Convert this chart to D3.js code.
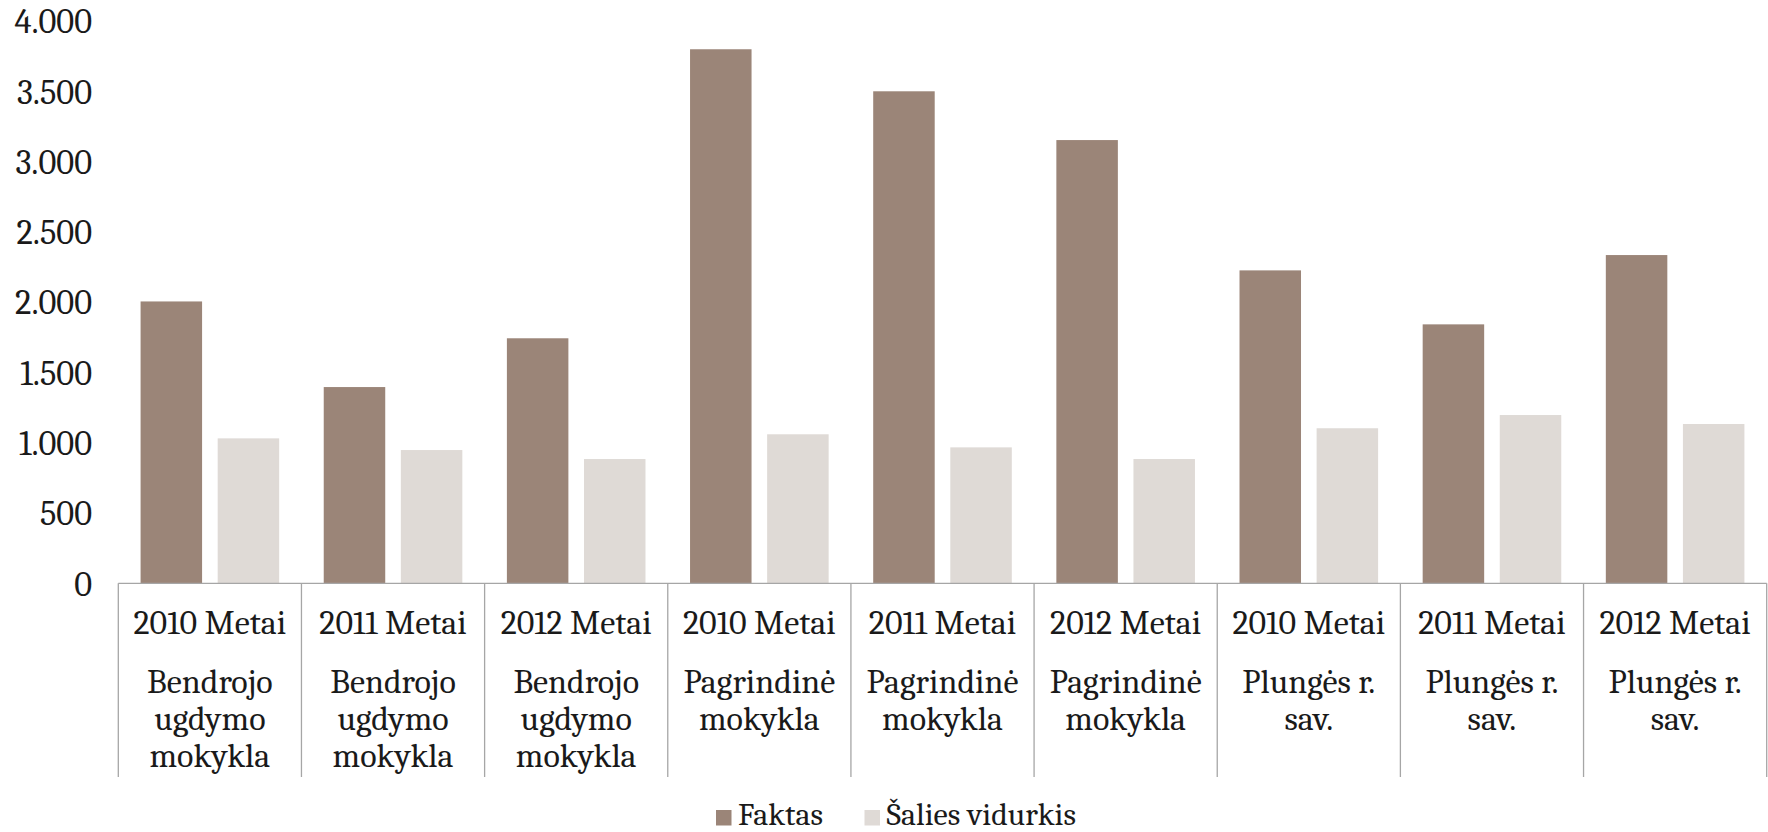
<!DOCTYPE html>
<html>
<head>
<meta charset="utf-8">
<script src="https://cdn.jsdelivr.net/npm/d3@7"></script>
<style>
	body { margin: 0; background: #fff; }
	svg { display: block; }
</style>
</head>
<body>
<svg id="chart" width="1768" height="832"></svg>
<script>
// duomenys
var years = ["2010 Metai", "2011 Metai", "2012 Metai",
	"2010 Metai", "2011 Metai", "2012 Metai",
	"2010 Metai", "2011 Metai", "2012 Metai"];
var groupLines = [
	["Bendrojo", "ugdymo", "mokykla"], ["Bendrojo", "ugdymo", "mokykla"], ["Bendrojo", "ugdymo", "mokykla"],
	["Pagrindinė", "mokykla"], ["Pagrindinė", "mokykla"], ["Pagrindinė", "mokykla"],
	["Plungės r.", "sav."], ["Plungės r.", "sav."], ["Plungės r.", "sav."]
];
var seriesNames = ["Faktas", "Šalies vidurkis"];
var faktas = [2005, 1396, 1743, 3799, 3500, 3153, 2226, 1842, 2335];
var saliesVidurkis = [1031, 948, 884, 1060, 967, 884, 1103, 1197, 1133];
var yTicks = [0, 500, 1000, 1500, 2000, 2500, 3000, 3500, 4000];
var colors = ["#9b8578", "#dfdad6"];

(function(){
	var FONT = "Caladea, 'Liberation Serif', serif";
	var svg = d3.select("#chart"),
		margin = {top: 21, left: 118.3, right: 1.3},
		axisY = 583.3,
		width = 1768 - margin.left - margin.right;

	var idx = d3.range(years.length);
	var series = [faktas, saliesVidurkis];

	var x = d3.scaleBand().domain(idx).range([margin.left, margin.left + width]);
	var x1 = d3.scaleBand().domain([0, 1]).range([0, x.bandwidth()])
		.paddingInner(0.2023).paddingOuter(0.289);
	var y = d3.scaleLinear().domain([0, 4000]).range([axisY, margin.top]);

	var fmt = function(d){ return d3.format(",")(d).replace(/,/g, "."); };

	// y axis labels
	var yAxis = svg.append("g")
		.attr("transform", "translate(92,0)")
		.call(d3.axisLeft(y).tickValues(yTicks).tickSize(0).tickPadding(0).tickFormat(fmt));
	yAxis.select(".domain").remove();
	yAxis.attr("font-family", null).attr("font-size", null);
	yAxis.selectAll("text")
		.attr("dy", "0.34em")
		.style("fill", "#1a1a1a")
		.style("font-size", "34.5px")
		.style("font-family", FONT);

	// bars
	idx.forEach(function(i){
		series.forEach(function(s, k){
			svg.append("rect")
				.attr("x", x(i) + x1(k))
				.attr("y", y(s[i]))
				.attr("width", x1.bandwidth())
				.attr("height", axisY - y(s[i]))
				.style("fill", colors[k]);
		});
	});

	// category axis line and separators
	svg.append("line")
		.attr("x1", margin.left).attr("x2", margin.left + width)
		.attr("y1", axisY).attr("y2", axisY)
		.style("stroke", "#a6a6a6").style("stroke-width", 1.3);

	var bounds = idx.map(function(i){ return x(i); }).concat([margin.left + width]);
	svg.selectAll(".sep")
		.data(bounds)
		.enter()
		.append("line")
		.attr("class", "sep")
		.attr("x1", function(d){ return d; }).attr("x2", function(d){ return d; })
		.attr("y1", axisY).attr("y2", 777)
		.style("stroke", "#a6a6a6").style("stroke-width", 1.3);

	// category labels
	var cat = svg.selectAll(".cat")
		.data(idx)
		.enter()
		.append("g")
		.attr("class", "cat")
		.attr("transform", function(i){ return "translate(" + (x(i) + x.bandwidth() / 2) + ",0)"; });

	cat.append("text")
		.attr("y", 634)
		.attr("text-anchor", "middle")
		.style("fill", "#1a1a1a")
		.style("font-size", "34px")
		.style("font-family", FONT)
		.text(function(i){ return years[i]; });

	cat.each(function(i){
		d3.select(this).selectAll(".g-line")
			.data(groupLines[i])
			.enter()
			.append("text")
			.attr("class", "g-line")
			.attr("y", function(d, j){ return 693 + j * 37; })
			.attr("text-anchor", "middle")
			.style("fill", "#1a1a1a")
			.style("font-size", "34px")
			.style("font-family", FONT)
			.text(function(d){ return d; });
	});

	// legend
	var legendX = [716, 864.5];
	var legend = svg.selectAll(".legend")
		.data(seriesNames)
		.enter()
		.append("g")
		.attr("class", "legend")
		.attr("transform", function(d, k){ return "translate(" + legendX[k] + ",0)"; });

	legend.append("rect")
		.attr("x", 0).attr("y", 810)
		.attr("width", 15.5).attr("height", 15.5)
		.style("fill", function(d, k){ return colors[k]; });

	legend.append("text")
		.attr("x", 22).attr("y", 825)
		.style("fill", "#1a1a1a")
		.style("font-size", "32px")
		.style("font-family", FONT)
		.text(function(d){ return d; });
})();
</script>
</body>
</html>
